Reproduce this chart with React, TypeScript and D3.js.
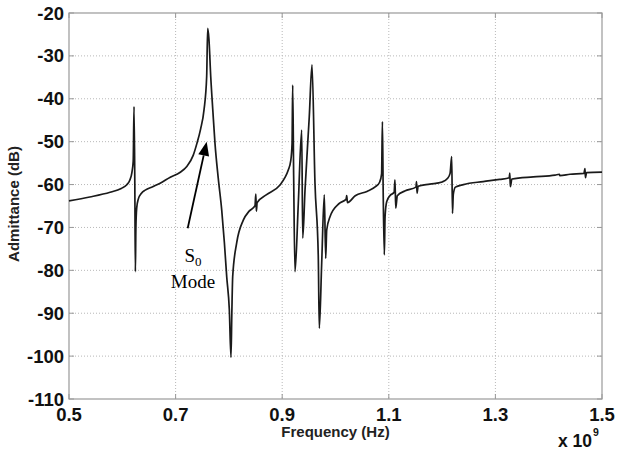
import React from "react";
import * as d3 from "d3";

// Frequency in units of 1e9 Hz
const freq: number[] = [
  0.5, 0.539, 0.577, 0.598, 0.608, 0.614, 0.618, 0.6205, 0.622, 0.6235, 0.6245, 0.6255, 0.627, 0.63, 0.636, 0.643,
  0.657, 0.671, 0.69, 0.708, 0.721, 0.733, 0.74, 0.747, 0.7533, 0.7583, 0.7602, 0.7625, 0.7659, 0.77, 0.7739, 0.78,
  0.7865, 0.7915, 0.7959, 0.8008, 0.8039, 0.8055, 0.8071, 0.8146, 0.827, 0.838, 0.849, 0.8505, 0.8515, 0.853, 0.87, 0.8959,
  0.905, 0.9114, 0.916, 0.9185, 0.9197, 0.9215, 0.924, 0.9302, 0.9366, 0.9385, 0.9428, 0.9508, 0.9559, 0.9615, 0.9677, 0.9696,
  0.9741, 0.979, 0.9816, 0.9835, 0.9897, 1.0071, 1.02, 1.021, 1.0225, 1.037, 1.059, 1.075, 1.083, 1.0865, 1.088, 1.0895,
  1.0916, 1.093, 1.096, 1.102, 1.11, 1.1116, 1.113, 1.116, 1.13, 1.151, 1.152, 1.153, 1.155, 1.177, 1.2, 1.21,
  1.215, 1.218, 1.2195, 1.221, 1.225, 1.24, 1.277, 1.308, 1.326, 1.327, 1.328, 1.331, 1.371, 1.412, 1.42, 1.421,
  1.44, 1.466, 1.468, 1.469, 1.471, 1.5,
];
const admittance: number[] = [
  -63.8, -62.9, -61.8, -60.9, -60.1, -59.0, -57.2, -54.5, -41.8, -60, -80.3, -70, -65.5, -63.4, -62.0, -61.3,
  -60.5, -59.7, -58.3, -57.2, -55.8, -53.2, -50.4, -47, -42.6, -34.8, -23.6, -26, -34.8, -43, -50.4, -58.5,
  -65.9, -73.5, -81.5, -89.2, -100.3, -90, -81.5, -73.6, -68.3, -66.2, -64.9, -62.2, -66.2, -64.2, -62.4, -60.1,
  -58.4, -56.6, -54.5, -50.5, -36.8, -58, -80.3, -64.4, -47.3, -72.5, -61.3, -44.2, -32.1, -59.7, -76.8, -93.5,
  -78.3, -62.4, -77.2, -70.6, -67.5, -64.4, -63.4, -62.6, -64.2, -62.6, -61.6, -60.5, -59.4, -57.5, -45.3, -62,
  -76.4, -67.5, -64, -62.6, -61.8, -58.9, -65.5, -62.6, -61.5, -60.6, -59.3, -62.0, -60.4, -59.9, -59.4, -58.6,
  -57.4, -53.5, -66.7, -62.3, -60.6, -60.0, -59.3, -58.8, -58.4, -57.3, -60.5, -58.7, -58.2, -57.8, -57.6, -57.9,
  -57.6, -57.4, -56.3, -58.4, -57.2, -57.1,
];

const xTicks: number[] = [0.5, 0.7, 0.9, 1.1, 1.3, 1.5];
const yTicks: number[] = [-20, -30, -40, -50, -60, -70, -80, -90, -100, -110];

// annotation anchor points in data coordinates
const arrowTail = { f: 0.7227, db: -70.2 };
const arrowTip = { f: 0.7583, db: -50 };
const labelPos = { f: 0.7327, db1: -78, db2: -84.1 };

const W = 618;
const H = 453;
const M = { left: 69, right: 16, top: 13, bottom: 54 };

export default function App() {
  const x = d3.scaleLinear().domain([0.5, 1.5]).range([M.left, W - M.right]);
  const y = d3.scaleLinear().domain([-110, -20]).range([H - M.bottom, M.top]);
  const pts: [number, number][] = freq.map((f, i) => [f, admittance[i]]);
  const line = d3
    .line<[number, number]>()
    .x((d) => x(d[0]))
    .y((d) => y(d[1]))
    .curve(d3.curveMonotoneX);

  const x0 = x.range()[0];
  const x1 = x.range()[1];
  const y0 = y.range()[0];
  const y1 = y.range()[1];

  const tx = x(arrowTail.f), ty = y(arrowTail.db);
  const hx = x(arrowTip.f), hy = y(arrowTip.db);
  const ang = Math.atan2(hy - ty, hx - tx);
  const headLen = 14, headW = 5.5;
  const bx = hx - headLen * Math.cos(ang), by = hy - headLen * Math.sin(ang);
  const px = -Math.sin(ang) * headW, py = Math.cos(ang) * headW;

  const tickFont = "'Liberation Sans', Arial, sans-serif";

  return (
    <svg width={W} height={H} style={{ position: "absolute", left: 0, top: 0, background: "#fff" }}>
      <rect x={0} y={0} width={W} height={H} fill="#fff" />
      {/* grid */}
      {xTicks.slice(1, -1).map((t) => (
        <line key={"gx" + t} x1={x(t)} x2={x(t)} y1={y1} y2={y0} stroke="#b8b8b8" strokeWidth={1} strokeDasharray="1,2" />
      ))}
      {yTicks.slice(1, -1).map((t) => (
        <line key={"gy" + t} x1={x0} x2={x1} y1={y(t)} y2={y(t)} stroke="#b8b8b8" strokeWidth={1} strokeDasharray="1,2" />
      ))}
      {/* ticks inside */}
      {xTicks.map((t) => (
        <g key={"tx" + t}>
          <line x1={x(t)} x2={x(t)} y1={y0} y2={y0 - 5} stroke="#999" />
          <line x1={x(t)} x2={x(t)} y1={y1} y2={y1 + 5} stroke="#999" />
        </g>
      ))}
      {yTicks.map((t) => (
        <g key={"ty" + t}>
          <line x1={x0} x2={x0 + 5} y1={y(t)} y2={y(t)} stroke="#999" />
          <line x1={x1} x2={x1 - 5} y1={y(t)} y2={y(t)} stroke="#999" />
        </g>
      ))}
      {/* frame */}
      <rect x={x0} y={y1} width={x1 - x0} height={y0 - y1} fill="none" stroke="#999" strokeWidth={1.2} />
      {/* data */}
      <path d={line(pts) || ""} fill="none" stroke="#1a1a1a" strokeWidth={1.7} strokeLinejoin="round" />
      {/* tick labels */}
      {yTicks.map((t) => (
        <text key={"ly" + t} x={x0 - 5} y={y(t) + 6.5} textAnchor="end" fontFamily={tickFont} fontWeight="bold" fontSize={18.5} fill="#111">
          {t}
        </text>
      ))}
      {xTicks.map((t) => (
        <text key={"lx" + t} x={x(t)} y={y0 + 22} textAnchor="middle" fontFamily={tickFont} fontWeight="bold" fontSize={18.5} fill="#111">
          {t.toFixed(1)}
        </text>
      ))}
      <text x={(x0 + x1) / 2} y={y0 + 38} textAnchor="middle" fontFamily={tickFont} fontWeight="bold" fontSize={15} fill="#222">
        Frequency (Hz)
      </text>
      <text x={x1 - 10} y={y0 + 47.5} textAnchor="end" fontFamily={tickFont} fontWeight="bold" fontSize={17.5} fill="#111">
        x 10
      </text>
      <text x={x1 - 9} y={y0 + 37} textAnchor="start" fontFamily={tickFont} fontWeight="bold" fontSize={10.5} fill="#111">
        9
      </text>
      <text
        transform={`translate(19, ${(y0 + y1) / 2 - 2}) rotate(-90)`}
        textAnchor="middle"
        fontFamily={tickFont}
        fontWeight="bold"
        fontSize={15}
        fill="#222"
      >
        Admittance (dB)
      </text>
      {/* annotation */}
      <line x1={tx} y1={ty} x2={bx} y2={by} stroke="#000" strokeWidth={1.8} />
      <polygon points={`${hx},${hy} ${bx + px},${by + py} ${bx - px},${by - py}`} fill="#000" />
      <text x={x(labelPos.f)} y={y(labelPos.db1)} textAnchor="middle" fontFamily="'Liberation Serif', 'Times New Roman', serif" fontSize={19} fill="#000">
        S<tspan fontSize={13} dy={4} fill="#000">0</tspan>
      </text>
      <text x={x(labelPos.f)} y={y(labelPos.db2)} textAnchor="middle" fontFamily="'Liberation Serif', 'Times New Roman', serif" fontSize={19} fill="#000">
        Mode
      </text>
    </svg>
  );
}
